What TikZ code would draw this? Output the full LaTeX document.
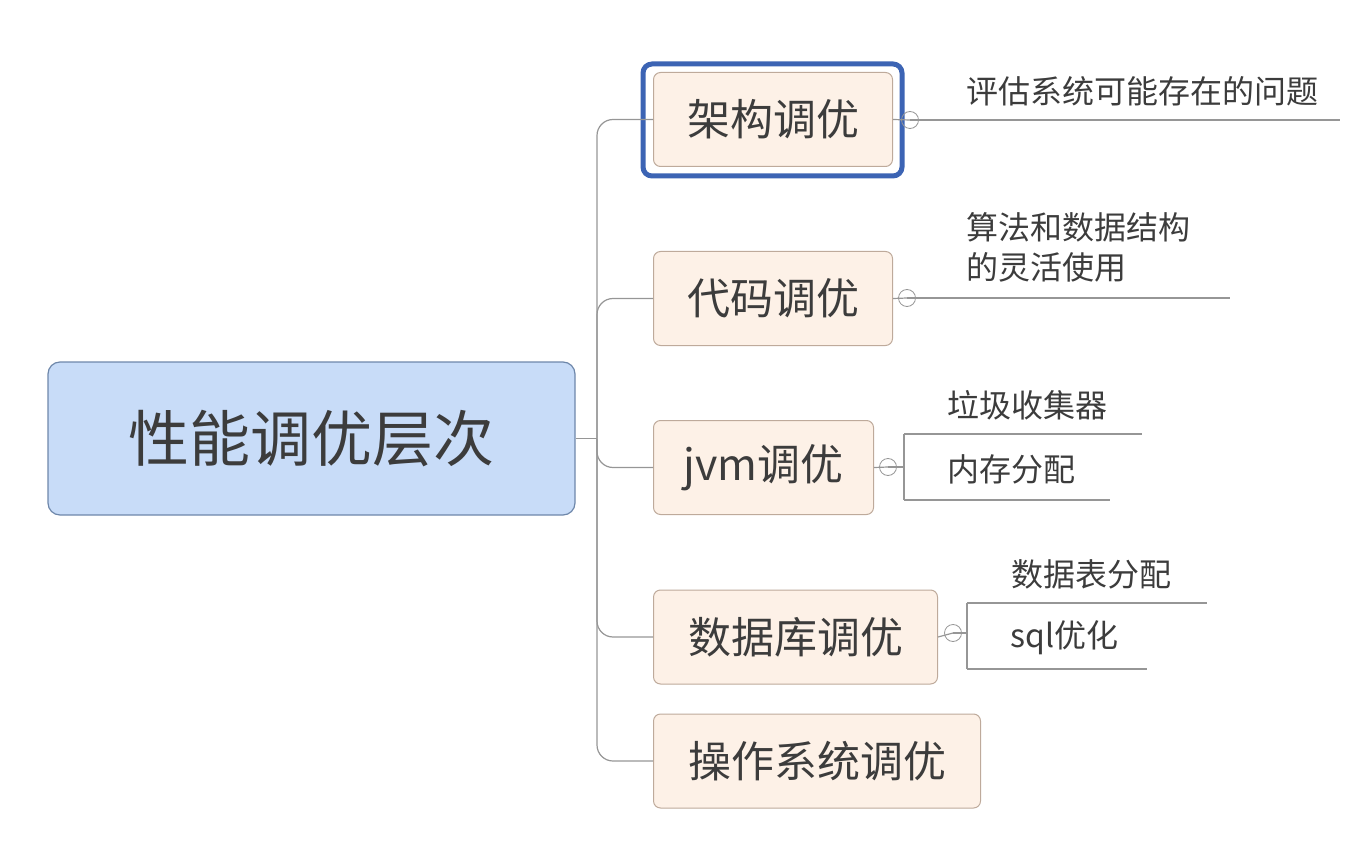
\documentclass[tikz,border=0pt]{standalone}
\usepackage{fontspec}
\setmainfont{Noto Sans CJK SC}
\definecolor{rootfill}{RGB}{200,220,248}
\definecolor{rootline}{RGB}{110,135,170}
\definecolor{topicfill}{RGB}{253,241,231}
\definecolor{topicline}{RGB}{190,170,155}
\definecolor{txt}{RGB}{60,60,60}
\definecolor{sel}{RGB}{60,100,180}
\definecolor{wire}{RGB}{150,150,150}
\tikzset{
  root/.style={draw=rootline,fill=rootfill,rounded corners=12pt,line width=1.2pt,
    minimum width=527pt,minimum height=153pt,text=txt,font=\fontsize{61}{63}\selectfont},
  topic/.style={draw=topicline,fill=topicfill,rounded corners=7pt,line width=1pt,
    minimum height=94pt,anchor=west,text=txt,font=\fontsize{43}{46}\selectfont},
  leaf/.style={anchor=west,inner sep=0pt,text=txt,font=\fontsize{32}{44}\selectfont,align=left},
  knob/.style={circle,draw=wire,inner sep=0pt,minimum size=17pt,line width=0.8pt},
  wire/.style={draw=wire,line width=1.2pt},
}
\begin{document}
\begin{tikzpicture}[x=1pt,y=-1pt]
\useasboundingbox (0,0) rectangle (1356,858);
% root and topics
\node[root] (root) at (311.5,438.5) {性能调优层次};
\node[topic,minimum width=239pt] (arch) at (653,119.5) {架构调优};
\node[topic,minimum width=239pt] (code) at (653,298.5) {代码调优};
\node[topic,minimum width=220pt] (jvm) at (653,467.5) {jvm调优};
\node[topic,minimum width=284pt] (db) at (653,637) {数据库调优};
\node[topic,minimum width=327pt] (os) at (653,761) {操作系统调优};
\draw[sel,line width=5pt,rounded corners=9pt] (643,64) rectangle (902,176);
% trunk
\coordinate (trunk) at (597,438.5);
\draw[wire] (root.east) -- (trunk);
\foreach \t in {arch,code,jvm,db,os}
  \draw[wire,rounded corners=16pt] (trunk) |- (\t.west);
% knobs
\node[knob] (k1) at (910,120) {};
\node[knob] (k2) at (907,298) {};
\node[knob] (k3) at (888,467) {};
\node[knob] (k4) at (953,633) {};
\draw[wire] (arch.east) -- (k1.center);
\draw[wire] (code.east) -- (k2.center);
\draw[wire] (jvm.east) -- (k3.center);
\draw[wire] (db.east) -- (k4.center);
% leaves
\coordinate (e1) at (1340,120);
\draw[wire] (k1.center) -- (e1);
\node[leaf] (l1) at (966,91) {评估系统可能存在的问题};
\coordinate (e2) at (1230,298);
\draw[wire] (k2.center) -- (e2);
\node[leaf] (l2) at (966,247) {算法和数据结构\\[-4pt]的灵活使用};
\coordinate (b3) at (904,467);
\draw[wire] (k3.center) -- (b3);
\draw[wire] (904,434) -- (904,500);
\draw[wire] (904,434) -- (1142,434);
\draw[wire] (904,500) -- (1110,500);
\node[leaf] (l3a) at (947,405) {垃圾收集器};
\node[leaf] (l3b) at (947,469) {内存分配};
\coordinate (b4) at (967,633);
\draw[wire] (k4.center) -- (b4);
\draw[wire] (967,603) -- (967,669);
\draw[wire] (967,603) -- (1207,603);
\draw[wire] (967,669) -- (1147,669);
\node[leaf] (l4a) at (1011,574) {数据表分配};
\node[leaf] (l4b) at (1010,638) {sql优化};
\end{tikzpicture}
\end{document}
